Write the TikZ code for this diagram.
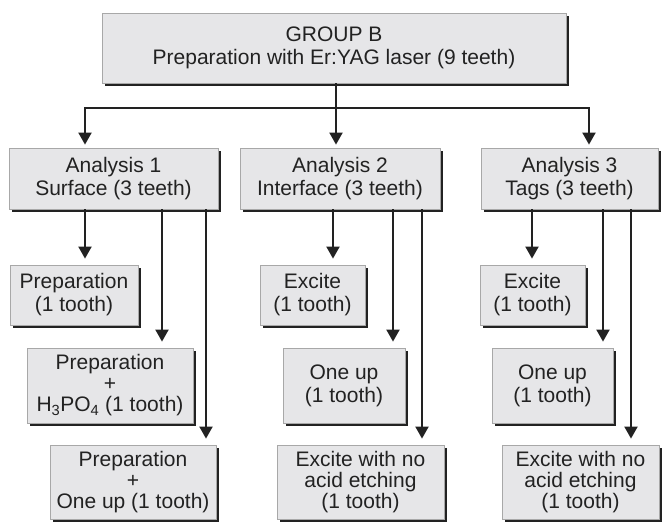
\documentclass[tikz,border=0pt]{standalone}
\usepackage{fontspec}
\setmainfont{Liberation Sans}
\usetikzlibrary{arrows.meta,shadows}
\definecolor{boxfill}{HTML}{E6E6E8}
\definecolor{boxline}{HTML}{A8A8A8}
\definecolor{ink}{HTML}{222222}
\begin{document}
\begin{tikzpicture}[x=1pt,y=-1pt,
  box/.style={rectangle, fill=boxfill, draw=boxline, line width=0.8pt, inner sep=0pt,
    align=center, text=ink, font=\fontsize{21}{23}\selectfont,
    drop shadow={shadow xshift=3pt, shadow yshift=-3pt, fill=ink, opacity=1}},
  tight/.style={font=\fontsize{21}{21}\selectfont},
  arr/.style={draw=ink, line width=2pt, -{Triangle[length=12pt,width=13pt]}},
  arrA/.style={arr, shorten >=3pt},
  arrB/.style={arr, shorten >=6pt}]
\useasboundingbox (0,0) rectangle (662,522);

% top
\node[box, minimum width=464pt, minimum height=70pt] (top) at (334,48)
  {GROUP B\\Preparation with Er:YAG laser (9 teeth)};

% analyses
\node[box, minimum width=209pt, minimum height=61pt] (a1) at (113.5,178.5) {Analysis 1\\Surface (3 teeth)};
\node[box, minimum width=200pt, minimum height=61pt] (a2) at (340,178.5) {Analysis 2\\Interface (3 teeth)};
\node[box, minimum width=177pt, minimum height=61pt] (a3) at (569.5,178.5) {Analysis 3\\Tags (3 teeth)};

% column 1
\node[box, minimum width=128pt, minimum height=60pt] (b11) at (74,295) {Preparation\\(1 tooth)};
\node[box, tight, minimum width=166pt, minimum height=75pt] (b12) at (110,385.5) {Preparation\\+\\H\textsubscript{3}PO\textsubscript{4} (1 tooth)};
\node[box, tight, minimum width=166pt, minimum height=74pt] (b13) at (133,482) {Preparation\\+\\One up (1 tooth)};

% column 2
\node[box, minimum width=105pt, minimum height=60pt] (b21) at (312.5,295) {Excite\\(1 tooth)};
\node[box, minimum width=122pt, minimum height=75pt] (b22) at (344,385.5) {One up\\(1 tooth)};
\node[box, tight, minimum width=167pt, minimum height=74pt] (b23) at (360.5,482) {Excite with no\\acid etching\\(1 tooth)};

% column 3
\node[box, minimum width=105pt, minimum height=60pt] (b31) at (532.5,295) {Excite\\(1 tooth)};
\node[box, minimum width=121pt, minimum height=75pt] (b32) at (552.5,385.5) {One up\\(1 tooth)};
\node[box, tight, minimum width=157pt, minimum height=74pt] (b33) at (580.5,482) {Excite with no\\acid etching\\(1 tooth)};

% bus from top
\coordinate (bus) at (336,108);
\coordinate (busL) at (85,108);
\coordinate (busR) at (589,108);
\draw[arrA] (bus |- top.south) -- (bus |- a2.north);
\draw[arrA] (bus) -- (busL) -- (busL |- a1.north);
\draw[arrA] (bus) -- (busR) -- (busR |- a3.north);

% arrow columns
\coordinate (x11) at (85,0);  \coordinate (x12) at (162,0); \coordinate (x13) at (206,0);
\coordinate (x21) at (333,0); \coordinate (x22) at (393,0); \coordinate (x23) at (422,0);
\coordinate (x31) at (532,0); \coordinate (x32) at (603,0); \coordinate (x33) at (631,0);

\draw[arrB] (x11 |- a1.south) -- (x11 |- b11.north);
\draw[arrB] (x12 |- a1.south) -- (x12 |- b12.north);
\draw[arrB] (x13 |- a1.south) -- (x13 |- b13.north);
\draw[arrB] (x21 |- a2.south) -- (x21 |- b21.north);
\draw[arrB] (x22 |- a2.south) -- (x22 |- b22.north);
\draw[arrB] (x23 |- a2.south) -- (x23 |- b23.north);
\draw[arrB] (x31 |- a3.south) -- (x31 |- b31.north);
\draw[arrB] (x32 |- a3.south) -- (x32 |- b32.north);
\draw[arrB] (x33 |- a3.south) -- (x33 |- b33.north);
\end{tikzpicture}
\end{document}
